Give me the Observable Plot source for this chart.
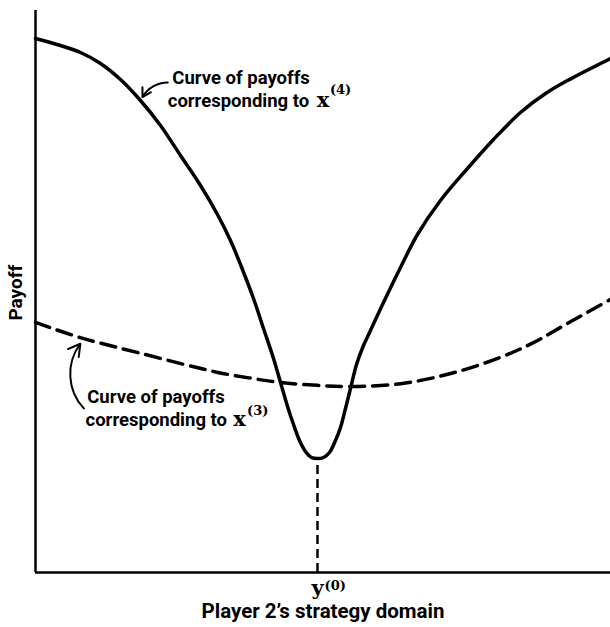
<!DOCTYPE html>
<html>
<head>
<meta charset="utf-8">
<script src="https://cdn.jsdelivr.net/npm/d3@7"></script>
<script src="https://cdn.jsdelivr.net/npm/@observablehq/plot@0.6"></script>
<style>
  html, body { margin: 0; padding: 0; background: #fff; }
  svg { display: block; }
</style>
</head>
<body>
<div id="chart"></div>
<script>
// Player 2's strategy (abstract 0–100 scale) and payoffs
const solidX = [0, 4.35, 7.83, 11.30, 14.78, 18.26, 21.74, 25.22, 28.70, 31.65, 33.91, 35.65, 37.91, 39.65, 41.39, 42.61, 43.83, 44.87, 45.91, 46.96, 48.0, 49.04, 50.09, 51.13, 52.17, 53.04, 53.91, 54.78, 55.83, 57.04, 58.26, 60.52, 63.48, 66.43, 70.43, 75.13, 79.65, 84.35, 88.70, 92.52, 100];
const solidY = [95.02, 93.77, 92.53, 90.57, 87.72, 83.99, 79.54, 74.20, 68.86, 63.70, 59.07, 54.80, 48.75, 43.42, 38.08, 33.81, 29.54, 26.33, 23.49, 21.53, 20.46, 20.28, 20.46, 21.35, 23.49, 25.80, 29.18, 32.74, 37.01, 40.39, 43.06, 48.04, 54.27, 60.14, 66.19, 71.89, 77.05, 81.85, 85.23, 87.54, 91.46];
const dashedX = [0, 7.8, 18.3, 31.7, 37.9, 42.6, 49.0, 54.8, 63.5, 72.2, 80.9, 86.6, 92.5, 100];
const dashedY = [44.5, 41.8, 39.0, 35.6, 34.5, 33.8, 33.3, 33.1, 33.6, 35.4, 38.3, 40.9, 44.3, 48.6];
const y0Strategy = 49.04;  // position of y^(0)
const y0Payoff = 20.28;    // minimum of the x^(4) curve

// Annotation text
const labelLine1 = ["Curve of payoffs", "Curve of payoffs"];
const labelLine2 = ["corresponding to", "corresponding to"];
const labelVec = ["x", "x"];
const labelSup = ["(4)", "(3)"];
const labelX1 = [23.8, 9.0];
const labelX2 = [23.0, 8.7];
const labelY1 = [87.0, 30.2];
const labelY2 = [82.9, 26.0];
const vecX = [48.9, 34.4];
const supX = [51.2, 36.8];
const supY = [85.1, 28.1];
// Arrows from labels to curves
const arrow4 = {x1: 23.0, y1: 87.2, x2: 18.6, y2: 84.6};
const arrow3 = {x1: 8.4, y1: 29.2, x2: 7.8, y2: 40.7};

const solid = solidX.map((x, i) => ({x, y: solidY[i]}));
const dashed = dashedX.map((x, i) => ({x, y: dashedY[i]}));
const labels = labelLine1.map((t, i) => ({
  t1: t, t2: labelLine2[i], v: labelVec[i], s: labelSup[i],
  x1: labelX1[i], x2: labelX2[i], y1: labelY1[i], y2: labelY2[i], vx: vecX[i], sx: supX[i], sy: supY[i]
}));

const sans = "Roboto, 'Liberation Sans', sans-serif";
const serif = "'DejaVu Serif', 'Liberation Serif', serif";

const chart = Plot.plot({
  width: 610,
  height: 627,
  marginLeft: 35,
  marginRight: 0,
  marginTop: 10,
  marginBottom: 55,
  x: {domain: [0, 100], axis: null},
  y: {domain: [0, 100], axis: null},
  style: {background: "#fff", overflow: "visible"},
  marks: [
    // faint scan edge on the right
    Plot.ruleX([100], {y1: 0, y2: 100, stroke: "#cfcfcf", strokeWidth: 1}),
    // axes
    Plot.ruleX([0], {y1: 0, y2: 100, stroke: "#000", strokeWidth: 2.5}),
    Plot.ruleY([0], {x1: 0, x2: 100, stroke: "#000", strokeWidth: 2.5}),
    // vertical dashed drop to y^(0)
    Plot.ruleX([y0Strategy], {y1: 0, y2: y0Payoff, stroke: "#000", strokeWidth: 2.5, strokeDasharray: "9,5"}),
    // curves
    Plot.line(dashed, {x: "x", y: "y", curve: "catmull-rom", stroke: "#000", strokeWidth: 3.5, strokeDasharray: "15,8"}),
    Plot.line(solid, {x: "x", y: "y", curve: "catmull-rom", stroke: "#000", strokeWidth: 3.5}),
    // arrows
    Plot.arrow([arrow4], {x1: "x1", y1: "y1", x2: "x2", y2: "y2", bend: -30, stroke: "#000", strokeWidth: 2, headLength: 10}),
    Plot.arrow([arrow3], {x1: "x1", y1: "y1", x2: "x2", y2: "y2", bend: 40, stroke: "#000", strokeWidth: 2, headLength: 10}),
    // labels
    Plot.text(labels, {x: "x1", y: "y1", text: "t1", textAnchor: "start", lineAnchor: "bottom", fontSize: 18.5, fontWeight: "bold", fontFamily: sans, fill: "#000"}),
    Plot.text(labels, {x: "x2", y: "y2", text: "t2", textAnchor: "start", lineAnchor: "bottom", fontSize: 18.5, fontWeight: "bold", fontFamily: sans, fill: "#000"}),
    Plot.text(labels, {x: "vx", y: "y2", text: "v", textAnchor: "start", lineAnchor: "bottom", fontSize: 21, fontWeight: "bold", fontFamily: serif, fill: "#000"}),
    Plot.text(labels, {x: "sx", y: "sy", text: "s", textAnchor: "start", lineAnchor: "bottom", fontSize: 13, fontWeight: "bold", fontFamily: serif, fill: "#000"}),
    // y^(0) tick label
    Plot.text(["y"], {x: y0Strategy, frameAnchor: "bottom", dy: 22, lineAnchor: "bottom", textAnchor: "middle", fontSize: 21, fontWeight: "bold", fontFamily: serif, fill: "#000"}),
    Plot.text(["(0)"], {x: y0Strategy, frameAnchor: "bottom", dx: 7, dy: 17, lineAnchor: "bottom", textAnchor: "start", fontSize: 13, fontWeight: "bold", fontFamily: serif, fill: "#000"}),
    // axis titles
    Plot.text(["Player 2\u2019s strategy domain"], {frameAnchor: "bottom", dy: 45, lineAnchor: "bottom", fontSize: 20.5, fontWeight: "bold", fontFamily: sans, fill: "#000"}),
    Plot.text(["Payoff"], {frameAnchor: "left", y: 49.8, dx: -20, rotate: -90, textAnchor: "middle", fontSize: 19, fontWeight: "bold", fontFamily: sans, fill: "#000"})
  ]
});
document.getElementById("chart").appendChild(chart);
</script>
</body>
</html>
